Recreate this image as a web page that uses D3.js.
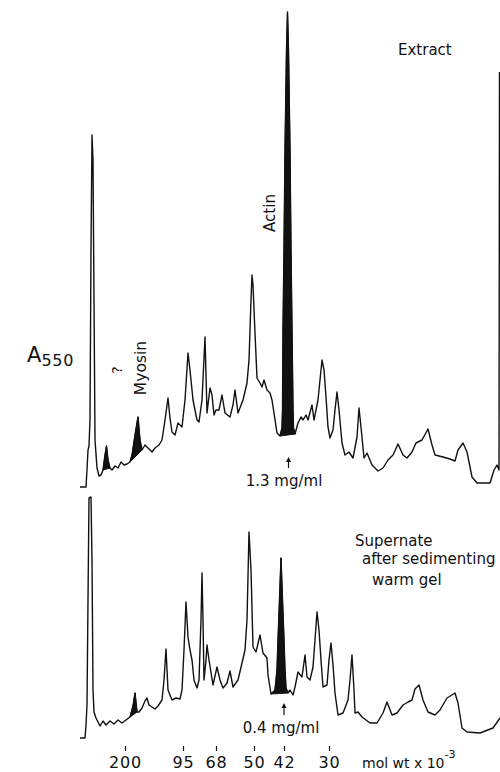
<!DOCTYPE html>
<html>
<head>
<meta charset="utf-8">
<script src="https://cdn.jsdelivr.net/npm/d3@7"></script>
<style>
  html, body { margin: 0; padding: 0; background: #fff; }
  svg { display: block; }
  text { font-family: "DejaVu Sans", sans-serif; fill: #111; }
</style>
</head>
<body>
<div id="chart"></div>
<script>
// ---- data: densitometer scans (scan position, absorbance above baseline) ----
const extractPos = [0,6,7,8,9,10,11,12,13,14,15,17,19,21,23,25,26.5,28,30,32,35,38,41,44,47,50,52,55,58,60,62,65,68,72,75,79,82,85,88,90,92,95,98,102,105,108,110,113,117,119,122,125,127,130,132,134,136,139,142,145,150,153,155,158,163,167,169,171,172,173,175,177,180,182,184,187,190,192,194,197,200,202,202.5,203,204,205,206.5,207.5,208.5,210,211,212,213,213.5,215,218,221,223,226,228,232,234,238,240,242,244,246,248,250,253,255,257,259,262,265,269,273,277,279,282,284,287,292,298,303,308,313,318,323,327,332,336,342,348,352,355,363,370,375,378,383,387,392,397,410,414,417,419,419.5];
const extractA   = [0,0,17,37,41,67,237,352,327,187,47,19,11,12,17,32,41,27,19,17,21,19,25,22,23,25,32,52,70,47,37,42,39,35,39,42,47,67,89,69,55,52,64,60,87,134,117,87,67,65,87,150,74,99,92,72,77,77,92,74,70,82,97,74,87,104,127,187,212,202,154,109,104,100,107,97,94,87,74,54,51,59,77,157,237,337,437,475,437,337,237,157,77,59,53,64,70,67,72,67,82,67,87,107,127,117,90,60,49,57,77,95,77,44,32,35,29,50,79,50,29,34,22,16,19,27,32,43,32,29,35,44,47,58,42,32,30,28,26,37,44,35,10,4,4,17,22,17,415];

const supernatePos = [0,5,6,7,8,9,11,12,13,14,16,18,20,23,26,30,34,38,42,46,50,53,55,57,59,62,65,67,69,72,75,78,82,84,86,88,92,96,100,102,104,106,108,110,112,114,117,119,121,122,123,124,126,127,129,133,137,140,143,147,150,153,158,162,165,167,169,171,173,176,180,183,187,188,191,195,197,198,199.5,201,202.5,204,205,206,208,210,213,215,218,222,225,227,230,233,235,237,239,241,243,247,249,251,253,255,258,263,268,270,272,274,275,278,282,290,297,303,307,312,317,323,328,332,335,339,343,348,355,360,367,375,378,382,387,400,413,420];
const supernateA   = [0,0,13,33,138,240,241,178,48,26,20,16,12,17,13,17,14,18,15,18,21,32,45,26,26,30,37,40,33,31,29,32,38,58,89,48,38,40,39,48,88,136,101,88,78,58,50,58,118,165,118,58,78,93,78,53,71,58,50,55,67,51,58,75,88,118,206,168,91,86,103,85,80,63,44,48,68,98,138,180,138,98,68,50,45,48,43,51,66,61,83,61,58,71,98,126,108,78,51,53,78,95,73,45,23,25,38,58,83,48,25,26,21,15,15,25,36,23,25,33,36,38,49,53,38,26,23,28,40,45,35,10,6,5,10,20];

// shaded peaks: [from, to] scan positions
const extractBands   = [[23, 30], [50, 62], [200, 215]];
const supernateBands = [[50, 57], [191, 208]];

// mol wt markers under the scans
const molWtPos    = [45, 103, 136, 174, 204, 249];
const molWtLabels = ["200", "95", "68", "50", "42", "30"];

// ---- drawing ----
const W = 500, H = 772;
const svg = d3.select("#chart").append("svg").attr("width", W).attr("height", H);

const x = d3.scaleLinear().domain([0, 420]).range([80, 500]);
const yTop = d3.scaleLinear().domain([0, 480]).range([487, 7]);
const yBot = d3.scaleLinear().domain([0, 480]).range([738, 258]);

function drawScan(pos, vals, bands, y) {
  const pts = pos.map((p, i) => ({ p, a: vals[i] }));
  const line = d3.line().x(d => x(d.p)).y(d => y(d.a));

  bands.forEach(([a, b]) => {
    const seg = pts.filter(d => d.p >= a && d.p <= b);
    svg.append("path")
      .datum(seg)
      .attr("d", line.curve(d3.curveLinearClosed))
      .attr("fill", "#111").attr("stroke", "#111").attr("stroke-width", 1);
  });

  svg.append("path")
    .datum(pts)
    .attr("d", line.curve(d3.curveLinear))
    .attr("fill", "none")
    .attr("stroke", "#111").attr("stroke-width", 1.4)
    .attr("stroke-linejoin", "round");
}

drawScan(extractPos, extractA, extractBands, yTop);
drawScan(supernatePos, supernateA, supernateBands, yBot);

// mol wt axis
const axis = d3.axisBottom(x)
  .tickValues(molWtPos)
  .tickFormat((d, i) => molWtLabels[i])
  .tickSize(5);
const ax = svg.append("g").attr("transform", "translate(0,746)").call(axis);
ax.select(".domain").remove();
ax.selectAll(".tick line").attr("stroke", "#111").attr("stroke-width", 1.2);
ax.selectAll(".tick text")
  .attr("y", 22).attr("dy", 0)
  .attr("font-family", "DejaVu Sans, sans-serif")
  .attr("font-size", 16).attr("letter-spacing", 0.8).attr("fill", "#111");

const unit = svg.append("text").attr("x", 362).attr("y", 768).attr("font-size", 14);
unit.append("tspan").text("mol wt x 10");
unit.append("tspan").attr("dy", -10).attr("font-size", 11).text("-3");

// y label
const yl = svg.append("text").attr("x", 27).attr("y", 362).attr("font-size", 21);
yl.append("tspan").text("A");
yl.append("tspan").attr("dy", 4).attr("font-size", 16).attr("letter-spacing", 0.8).text("550");

// annotations
svg.append("text").attr("x", 398).attr("y", 55).attr("font-size", 15).text("Extract");

svg.append("text")
  .attr("transform", "translate(275,213) rotate(-90)")
  .attr("text-anchor", "middle").attr("font-size", 15).text("Actin");

svg.append("text")
  .attr("transform", "translate(146,368) rotate(-90)")
  .attr("text-anchor", "middle").attr("font-size", 15.5).text("Myosin");

svg.append("text")
  .attr("transform", "translate(122,370) rotate(-90)")
  .attr("text-anchor", "middle").attr("font-size", 14).text("?");

function arrowUp(cx, yTopPx, yBotPx) {
  svg.append("line")
    .attr("x1", cx).attr("x2", cx).attr("y1", yBotPx).attr("y2", yTopPx + 3)
    .attr("stroke", "#111").attr("stroke-width", 1.2);
  svg.append("path")
    .attr("d", `M${cx - 2.5},${yTopPx + 5}L${cx},${yTopPx}L${cx + 2.5},${yTopPx + 5}Z`)
    .attr("fill", "#111");
}

arrowUp(x(208.5), 457, 468);
svg.append("text").attr("x", 284).attr("y", 486).attr("text-anchor", "middle")
  .attr("font-size", 15).text("1.3 mg/ml");

arrowUp(x(204), 703, 715);
svg.append("text").attr("x", 281).attr("y", 733).attr("text-anchor", "middle")
  .attr("font-size", 15).text("0.4 mg/ml");

svg.append("text").attr("x", 355).attr("y", 546).attr("font-size", 15).text("Supernate");
svg.append("text").attr("x", 362).attr("y", 564).attr("font-size", 15).text("after sedimenting");
svg.append("text").attr("x", 372).attr("y", 585).attr("font-size", 15).text("warm gel");
</script>
</body>
</html>
